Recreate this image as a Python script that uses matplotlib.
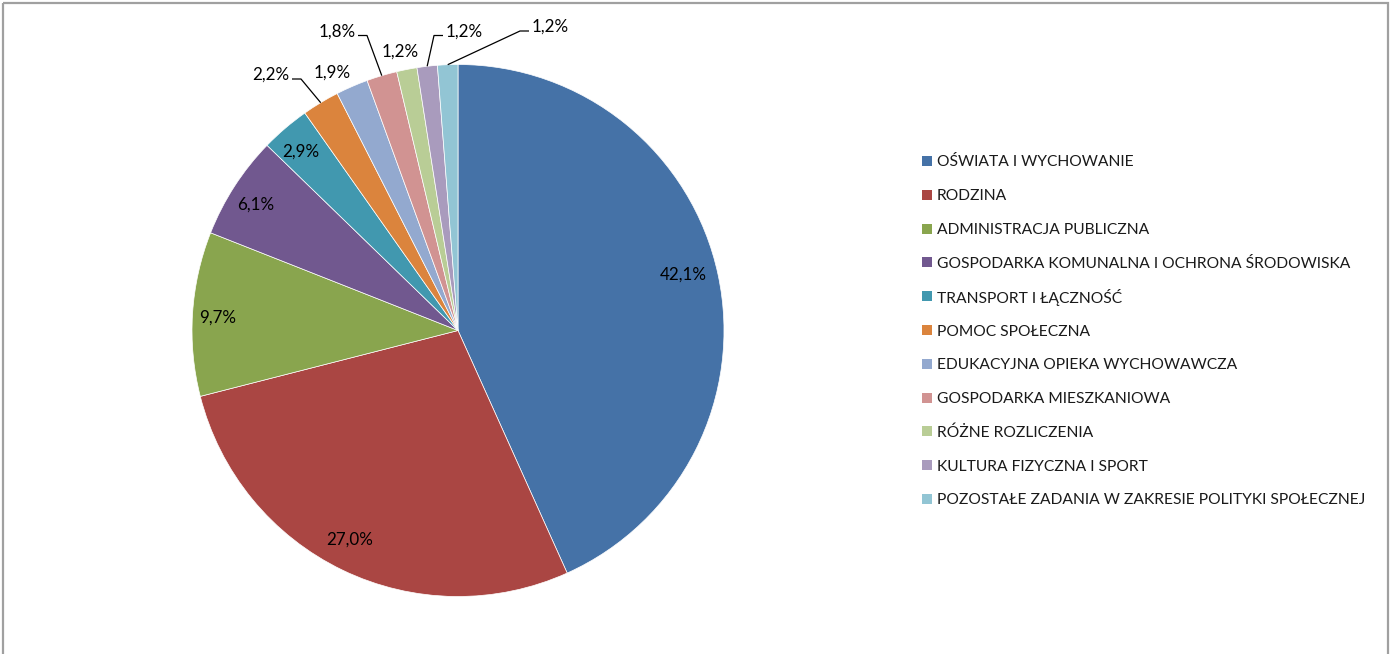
import matplotlib
matplotlib.use('Agg')
import matplotlib.pyplot as plt
from matplotlib.patches import Rectangle
import numpy as np

# ---------------- data ----------------
categories = [
    'OŚWIATA I WYCHOWANIE',
    'RODZINA',
    'ADMINISTRACJA PUBLICZNA',
    'GOSPODARKA KOMUNALNA I OCHRONA ŚRODOWISKA',
    'TRANSPORT I ŁĄCZNOŚĆ',
    'POMOC SPOŁECZNA',
    'EDUKACYJNA OPIEKA WYCHOWAWCZA',
    'GOSPODARKA MIESZKANIOWA',
    'RÓŻNE ROZLICZENIA',
    'KULTURA FIZYCZNA I SPORT',
    'POZOSTAŁE ZADANIA W ZAKRESIE POLITYKI SPOŁECZNEJ',
]
values = [42.1, 27.0, 9.7, 6.1, 2.9, 2.2, 1.9, 1.8, 1.2, 1.2, 1.2]
colors = ['#4572A7', '#AA4643', '#89A54E', '#71588F', '#4198AF', '#DB843D',
          '#93A9CF', '#D19392', '#B9CD96', '#A99BBD', '#92C5D4']

# ---------------- layout (pixels) ----------------
W, H, DPI = 1394, 654, 100
CX, CY, R = 458.0, 330.5, 266.0
# label text centres relative to pie centre (pixels, y downwards)
label_offsets = [(225, -55.5), (-108, 209.5), (-240, -12.5), (-202, -125.5),
                 (-157, -178.5), (-187, -255.5), (-126, -257.5), (-121, -299),
                 (-58, -278.5), (6, -299), (92, -303.5)]
# leader lines: index -> side of text where the leader starts (+1 right, -1 left)
leaders = {5: +1, 7: +1, 9: -1, 10: -1}
LEG_X, LEG_Y0, LEG_DY = 922, 161, 33.8

plt.rcParams['font.family'] = ['Lato', 'DejaVu Sans']
fig = plt.figure(figsize=(W / DPI, H / DPI), dpi=DPI)
fig.patch.set_facecolor('white')
renderer = fig.canvas.get_renderer()


def fit_size(text, target_px, base=12):
    t = fig.text(0, 0, text, fontsize=base)
    w = t.get_window_extent(renderer).width
    t.remove()
    return base * target_px / w


leg_fs = fit_size(categories[-1], 426)
lab_fs = fit_size('42,1%', 47)

# overlay axes in pixel coordinates
ov = fig.add_axes([0, 0, 1, 1])
ov.set_xlim(0, W)
ov.set_ylim(H, 0)
ov.axis('off')
ov.add_patch(Rectangle((3, 3), 1385, 700, fill=False, edgecolor='#A0A0A0', linewidth=1.6))

# pie axes
ax = fig.add_axes([(CX - R) / W, (H - CY - R) / H, 2 * R / W, 2 * R / H])
wedges, _ = ax.pie(values, colors=colors, startangle=90, counterclock=False, radius=1,
                   wedgeprops=dict(edgecolor='white', linewidth=0.5))
ax.set_xlim(-1, 1)
ax.set_ylim(-1, 1)
ax.set_aspect('equal')
ax.axis('off')

for i, (v, w) in enumerate(zip(values, wedges)):
    dx, dy = label_offsets[i]
    tx, ty = dx / R, -dy / R
    ax.text(tx, ty, f'{v:.1f}'.replace('.', ',') + '%', ha='center', va='center',
            fontsize=lab_fs, color='black', clip_on=False)
    if i in leaders:
        side = leaders[i]
        mid = np.deg2rad((w.theta1 + w.theta2) / 2)
        ax_, ay_ = np.cos(mid), np.sin(mid)
        x0 = tx + side * 21 / R
        x1 = tx + side * 30 / R
        yl = ty - 4 / R
        ax.plot([x0, x1, ax_], [yl, yl, ay_], color='black', linewidth=0.9,
                clip_on=False, solid_capstyle='butt')

# legend
for i, (cat, c) in enumerate(zip(categories, colors)):
    y = LEG_Y0 + i * LEG_DY
    ov.add_patch(Rectangle((LEG_X, y - 5), 10, 10, facecolor=c, edgecolor='none'))
    ov.text(LEG_X + 15, y, cat, ha='left', va='center_baseline', fontsize=leg_fs,
            color='#1a1a1a')

fig.savefig('out.png', dpi=DPI, facecolor='white')
